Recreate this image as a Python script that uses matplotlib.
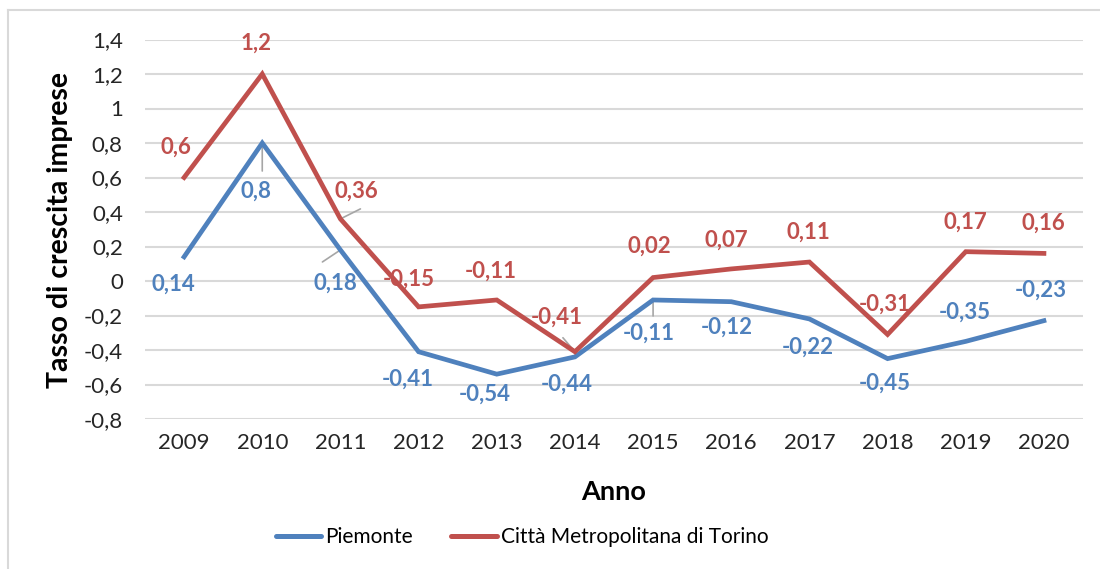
import matplotlib
matplotlib.use("Agg")
import matplotlib.pyplot as plt
from matplotlib.lines import Line2D

# ---- data ----
years = ["2009", "2010", "2011", "2012", "2013", "2014", "2015", "2016", "2017", "2018", "2019", "2020"]
piemonte = [0.14, 0.8, 0.18, -0.41, -0.54, -0.44, -0.11, -0.12, -0.22, -0.45, -0.35, -0.23]
torino = [0.6, 1.2, 0.36, -0.15, -0.11, -0.41, 0.02, 0.07, 0.11, -0.31, 0.17, 0.16]
yticks = [-0.8, -0.6, -0.4, -0.2, 0, 0.2, 0.4, 0.6, 0.8, 1.0, 1.2, 1.4]
series_names = ["Piemonte", "Città Metropolitana di Torino"]

# ---- styling ----
BLUE = "#4F81BD"
RED = "#C0504D"
GRID = "#D9D9D9"
FONT = "Lato"
plt.rcParams["font.family"] = [FONT, "DejaVu Sans"]

# label offsets in pixels (dx, dy), dy positive = up
off_p = [(-11, -27), (-6, -48), (-5, -33), (-11, -27), (-12, -20), (-8, -27),
         (-4, -33), (-5, -26), (-2, -28), (-3, -25), (-1, 29), (-3, 30)]
off_t = [(-8, 30), (-6, 31), (16, 28), (-10, 28), (-6, 29), (-18, 35),
         (-4, 31), (-5, 29), (-1, 30), (-3, 30), (0, 29), (-1, 30)]
leader_p = {1: (0, -28), 2: (-18, -12), 6: (0, -16)}
leader_t = {2: (20, 10), 5: (-12, 14)}

fig = plt.figure(figsize=(11, 5.69), dpi=100)
ax = fig.add_axes([145 / 1100, 1 - 419 / 569, (1083 - 145) / 1100, (419 - 39.5) / 569])

x = list(range(len(years)))
ax.plot(x, piemonte, color=BLUE, lw=3.4, solid_joinstyle="miter", zorder=3)
ax.plot(x, torino, color=RED, lw=3.4, solid_joinstyle="miter", zorder=3)

def fmt(v):
    s = ("%g" % v).replace(".", ",")
    return s

for series, offs, leaders, col in [(piemonte, off_p, leader_p, BLUE), (torino, off_t, leader_t, RED)]:
    for i, v in enumerate(series):
        dx, dy = offs[i]
        ax.annotate(fmt(v), (i, v), xytext=(dx, dy), textcoords="offset pixels",
                    ha="center", va="center", color=col, fontsize=16,
                    fontweight="bold", zorder=4)
        if i in leaders:
            lx, ly = leaders[i]
            ax.annotate("", (i, v), xytext=(lx, ly), textcoords="offset pixels",
                        arrowprops=dict(arrowstyle="-", color="#A6A6A6", lw=1.2,
                                        shrinkA=0, shrinkB=0), zorder=2)

ax.set_xlim(-0.5, len(years) - 0.5)
ax.set_ylim(-0.8, 1.4)
ax.set_yticks(yticks)
ax.set_yticklabels([fmt(round(t, 1)) for t in yticks], fontsize=16, color="#262626")
ax.set_xticks(x)
ax.set_xticklabels(years, fontsize=16, color="#262626")
ax.tick_params(length=0, pad=10)
ax.tick_params(axis="y", pad=16)
ax.grid(axis="y", color=GRID, lw=1.5, zorder=0)
ax.set_axisbelow(True)
for s in ax.spines.values():
    s.set_visible(False)

fig.text(60 / 1100, 1 - 230 / 569, "Tasso di crescita imprese", rotation=90,
         ha="center", va="center", fontsize=20.5, fontweight="bold")
fig.text(614 / 1100, 1 - 492 / 569, "Anno", ha="center", va="center",
         fontsize=19.5, fontweight="bold")

handles = [Line2D([], [], color=BLUE, lw=3.6, solid_capstyle="round"),
           Line2D([], [], color=RED, lw=3.6, solid_capstyle="round")]
fig.legend(handles, series_names, loc="center", bbox_to_anchor=(522 / 1100, 1 - 537 / 569),
           ncol=2, frameon=False, fontsize=15, handlelength=2.2, handletextpad=0.2,
           columnspacing=1.8)

# chart border (top and left edges visible)
fig.add_artist(Line2D([8 / 1100, 8 / 1100], [0, 1 - 10 / 569], color=GRID, lw=1.5,
                      transform=fig.transFigure))
fig.add_artist(Line2D([8 / 1100, 1], [1 - 10 / 569, 1 - 10 / 569], color=GRID, lw=1.5,
                      transform=fig.transFigure))

fig.savefig("out.png", dpi=100)
